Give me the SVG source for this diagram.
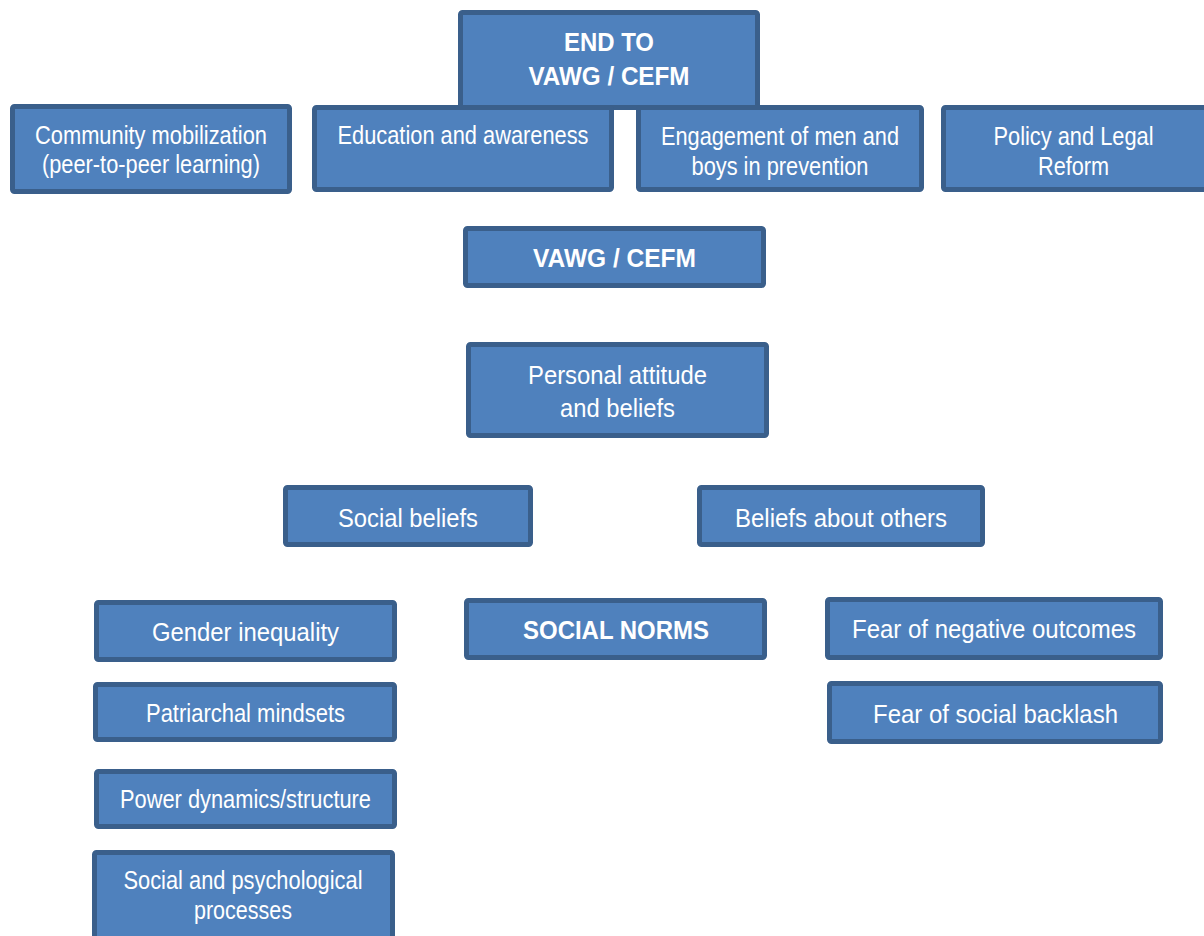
<svg xmlns="http://www.w3.org/2000/svg" width="1204" height="936" viewBox="0 0 1204 936">
<style>
.b{fill:#4F81BD;stroke:#3A5F8B;stroke-width:5}
text{font-family:"Liberation Sans",Arial,sans-serif;fill:#FFFFFF;text-anchor:middle}
.s{font-size:25px}
.m{font-size:26px}
.k{font-size:26px;font-weight:bold}
</style>
<rect width="1204" height="936" fill="#FFFFFF"/>
<g id="connectors"></g>
<g id="n-end"><rect class="b" x="460.5" y="12.5" width="297" height="95" rx="2"/><text class="k" x="609" y="51" textLength="90" lengthAdjust="spacingAndGlyphs">END TO</text><text class="k" x="609" y="85" textLength="161" lengthAdjust="spacingAndGlyphs">VAWG / CEFM</text></g>
<g id="n-community"><rect class="b" x="12.5" y="106.5" width="277" height="85" rx="2"/><text class="s" x="151" y="144" textLength="232" lengthAdjust="spacingAndGlyphs">Community mobilization</text><text class="s" x="151" y="173" textLength="218" lengthAdjust="spacingAndGlyphs">(peer-to-peer learning)</text></g>
<g id="n-education"><rect class="b" x="314.5" y="107.5" width="297" height="82" rx="2"/><text class="s" x="463" y="144" textLength="251" lengthAdjust="spacingAndGlyphs">Education and awareness</text></g>
<g id="n-engagement"><rect class="b" x="638.5" y="107.5" width="283" height="82" rx="2"/><text class="s" x="780" y="145" textLength="238" lengthAdjust="spacingAndGlyphs">Engagement of men and</text><text class="s" x="780" y="175" textLength="177" lengthAdjust="spacingAndGlyphs">boys in prevention</text></g>
<g id="n-policy"><rect class="b" x="943.5" y="107.5" width="265" height="82" rx="2"/><text class="s" x="1073.5" y="145" textLength="160" lengthAdjust="spacingAndGlyphs">Policy and Legal</text><text class="s" x="1073.5" y="175" textLength="71" lengthAdjust="spacingAndGlyphs">Reform</text></g>
<g id="n-vawg"><rect class="b" x="465.5" y="228.5" width="298" height="57" rx="2"/><text class="k" x="614.5" y="267" textLength="163" lengthAdjust="spacingAndGlyphs">VAWG / CEFM</text></g>
<g id="n-personal"><rect class="b" x="468.5" y="344.5" width="298" height="91" rx="2"/><text class="m" x="617.5" y="384" textLength="179" lengthAdjust="spacingAndGlyphs">Personal attitude</text><text class="m" x="617.5" y="417" textLength="115" lengthAdjust="spacingAndGlyphs">and beliefs</text></g>
<g id="n-socialbeliefs"><rect class="b" x="285.5" y="487.5" width="245" height="57" rx="2"/><text class="m" x="408" y="527" textLength="140" lengthAdjust="spacingAndGlyphs">Social beliefs</text></g>
<g id="n-beliefsothers"><rect class="b" x="699.5" y="487.5" width="283" height="57" rx="2"/><text class="m" x="841" y="527" textLength="212" lengthAdjust="spacingAndGlyphs">Beliefs about others</text></g>
<g id="n-gender"><rect class="b" x="96.5" y="602.5" width="298" height="57" rx="2"/><text class="m" x="245.5" y="641" textLength="187" lengthAdjust="spacingAndGlyphs">Gender inequality</text></g>
<g id="n-norms"><rect class="b" x="466.5" y="600.5" width="298" height="57" rx="2"/><text class="k" x="616" y="639" textLength="186" lengthAdjust="spacingAndGlyphs">SOCIAL NORMS</text></g>
<g id="n-fearneg"><rect class="b" x="827.5" y="599.5" width="333" height="58" rx="2"/><text class="m" x="994" y="638" textLength="284" lengthAdjust="spacingAndGlyphs">Fear of negative outcomes</text></g>
<g id="n-patriarchal"><rect class="b" x="95.5" y="684.5" width="299" height="55" rx="2"/><text class="m" x="245.5" y="722" textLength="199" lengthAdjust="spacingAndGlyphs">Patriarchal mindsets</text></g>
<g id="n-fearsocial"><rect class="b" x="829.5" y="683.5" width="331" height="58" rx="2"/><text class="m" x="995.5" y="723" textLength="245" lengthAdjust="spacingAndGlyphs">Fear of social backlash</text></g>
<g id="n-power"><rect class="b" x="96.5" y="771.5" width="298" height="55" rx="2"/><text class="m" x="245.5" y="808" textLength="251" lengthAdjust="spacingAndGlyphs">Power dynamics/structure</text></g>
<g id="n-socialpsych"><rect class="b" x="94.5" y="852.5" width="298" height="90" rx="2"/><text class="m" x="243" y="889" textLength="239" lengthAdjust="spacingAndGlyphs">Social and psychological</text><text class="m" x="243" y="919" textLength="98" lengthAdjust="spacingAndGlyphs">processes</text></g>
</svg>
